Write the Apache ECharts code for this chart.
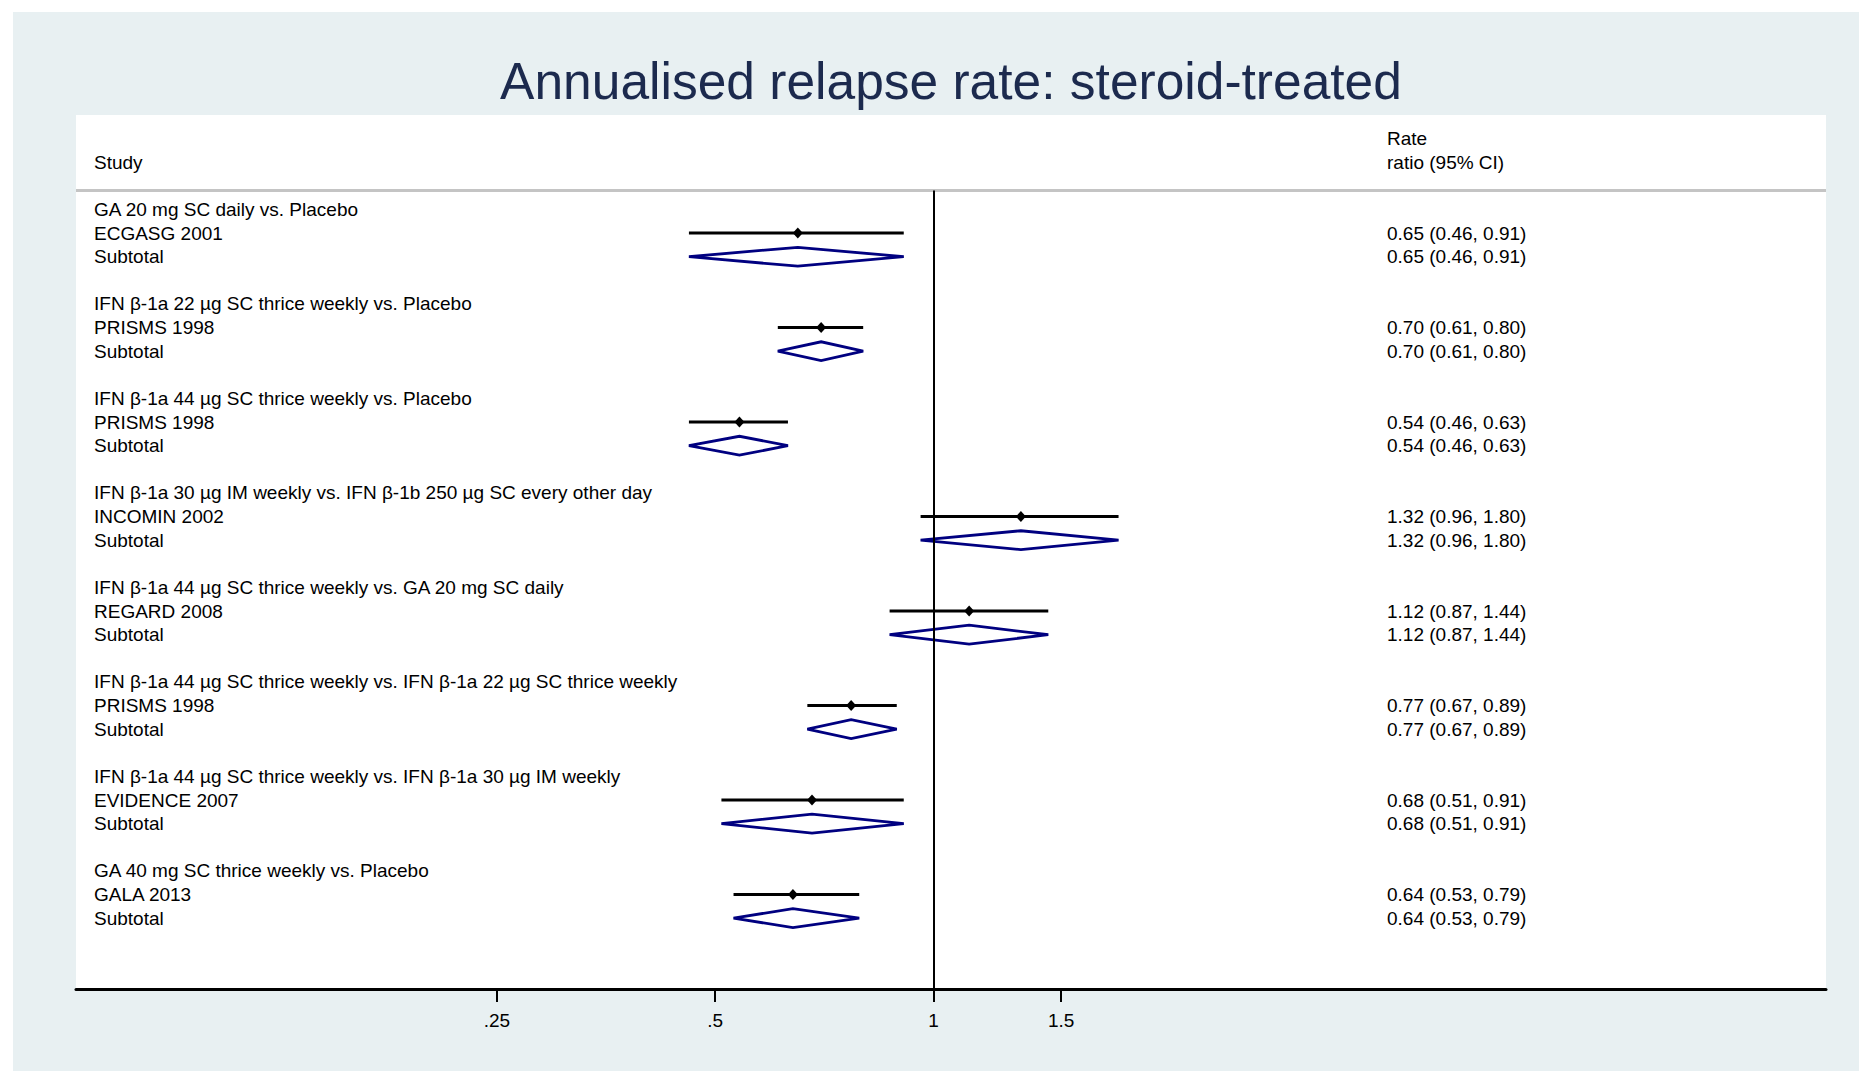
<!DOCTYPE html>
<html><head><meta charset="utf-8">
<script src="https://cdn.jsdelivr.net/npm/echarts@6/dist/echarts.min.js"></script>
<style>html,body{margin:0;padding:0;background:#fff}#c{width:1859px;height:1071px}</style>
</head><body><div id="c"></div>
<script>
const chartTitle = 'Annualised relapse rate: steroid-treated';
const comparisons = [
  'GA 20 mg SC daily vs. Placebo',
  'IFN β-1a 22 µg SC thrice weekly vs. Placebo',
  'IFN β-1a 44 µg SC thrice weekly vs. Placebo',
  'IFN β-1a 30 µg IM weekly vs. IFN β-1b 250 µg SC every other day',
  'IFN β-1a 44 µg SC thrice weekly vs. GA 20 mg SC daily',
  'IFN β-1a 44 µg SC thrice weekly vs. IFN β-1a 22 µg SC thrice weekly',
  'IFN β-1a 44 µg SC thrice weekly vs. IFN β-1a 30 µg IM weekly',
  'GA 40 mg SC thrice weekly vs. Placebo'
];
const studies = ['ECGASG 2001','PRISMS 1998','PRISMS 1998','INCOMIN 2002','REGARD 2008','PRISMS 1998','EVIDENCE 2007','GALA 2013'];
const estimates = [0.65, 0.70, 0.54, 1.32, 1.12, 0.77, 0.68, 0.64];
const lowerCI   = [0.46, 0.61, 0.46, 0.96, 0.87, 0.67, 0.51, 0.53];
const upperCI   = [0.91, 0.80, 0.63, 1.80, 1.44, 0.89, 0.91, 0.79];
const tickValues = [0.25, 0.5, 1, 1.5];
const tickLabels = ['.25', '.5', '1', '1.5'];
const headerLeft = 'Study';
const headerRight = ['Rate', 'ratio (95% CI)'];
const subtotalLabel = 'Subtotal';

const FONT = '"Liberation Sans", Arial, sans-serif';
const X_MIN = 0.06568, X_MAX = 17.02;

const leftRows = [[-2, headerLeft]];
const rightRows = [[-3, headerRight[0]], [-2, headerRight[1]]];
const ciRows = [];
const diamondRows = [];
comparisons.forEach((c, i) => {
  const r = 4 * i;
  leftRows.push([r, c], [r + 1, studies[i]], [r + 2, subtotalLabel]);
  const txt = estimates[i].toFixed(2) + ' (' + lowerCI[i].toFixed(2) + ', ' + upperCI[i].toFixed(2) + ')';
  rightRows.push([r + 1, txt], [r + 2, txt]);
  ciRows.push([lowerCI[i], estimates[i], upperCI[i], r + 1]);
  diamondRows.push([lowerCI[i], estimates[i], upperCI[i], r + 2]);
});

const TITLE_SIZE = 51.5;
const ctx = document.createElement('canvas').getContext('2d');
ctx.font = TITLE_SIZE + 'px ' + FONT;
const titleW = ctx.measureText(chartTitle).width;

function textSeries(rows, xOffset) {
  return {
    type: 'custom', clip: false, silent: true,
    data: rows.map(r => [1, r[0]]),
    renderItem(params, api) {
      const p = api.coord([1, api.value(1)]);
      return { type: 'text', x: params.coordSys.x + xOffset, y: p[1],
        style: { text: rows[params.dataIndex][1], fill: '#000', fontSize: 19, fontFamily: FONT,
                 align: 'left', verticalAlign: 'middle' } };
    }
  };
}

const chart = echarts.init(document.getElementById('c'), null, { renderer: 'svg' });
chart.setOption({
  animation: false,
  backgroundColor: '#ffffff',
  title: { text: chartTitle, left: 951 - titleW / 2, top: 55, padding: 0,
    textStyle: { fontSize: TITLE_SIZE, fontWeight: 'normal', color: '#1c2a4e', fontFamily: FONT } },
  graphic: [{ type: 'rect', z: -100, shape: { x: 13, y: 12, width: 1846, height: 1059 }, style: { fill: '#e8f0f2' } }],
  grid: { left: 76, right: 33, top: 115, bottom: 82, show: true, backgroundColor: '#ffffff', borderWidth: 0 },
  xAxis: {
    type: 'log', logBase: 10, min: X_MIN, max: X_MAX,
    axisLine: { show: true, onZero: false, lineStyle: { color: '#000', width: 3 } },
    axisTick: { show: true, customValues: tickValues, length: 13, lineStyle: { color: '#000', width: 2 } },
    axisLabel: { show: true, customValues: tickValues, margin: 22, fontSize: 19, color: '#000', fontFamily: FONT,
      formatter: v => {
        let best = 0;
        tickValues.forEach((t, i) => { if (Math.abs(Math.log(t) - Math.log(v)) < Math.abs(Math.log(tickValues[best]) - Math.log(v))) best = i; });
        return tickLabels[best];
      } },
    splitLine: { show: false }, minorTick: { show: false }
  },
  yAxis: { type: 'value', min: -4, max: 33, inverse: true, show: false },
  series: [
    {
      type: 'custom', name: 'Study estimates', clip: false,
      data: ciRows,
      encode: { x: [0, 1, 2], y: 3 },
      renderItem(params, api) {
        const row = api.value(3);
        const lo = api.coord([api.value(0), row]);
        const es = api.coord([api.value(1), row]);
        const hi = api.coord([api.value(2), row]);
        return { type: 'group', children: [
          { type: 'line', shape: { x1: lo[0], y1: lo[1], x2: hi[0], y2: hi[1] }, style: { stroke: '#000', lineWidth: 3 } },
          { type: 'polygon', shape: { points: [[es[0] - 5, es[1]], [es[0], es[1] - 5.5], [es[0] + 5, es[1]], [es[0], es[1] + 5.5]] }, style: { fill: '#000' } }
        ] };
      },
      markLine: {
        silent: true, symbol: 'none', label: { show: false },
        data: [
          [{ coord: [X_MIN, -0.8], lineStyle: { color: '#c4c4c4', width: 3, type: 'solid' } }, { coord: [X_MAX, -0.8] }],
          [{ coord: [1, -0.8], lineStyle: { color: '#000', width: 2, type: 'solid' } }, { coord: [1, 33] }]
        ]
      }
    },
    {
      type: 'custom', name: 'Subtotals', clip: false,
      data: diamondRows,
      encode: { x: [0, 1, 2], y: 3 },
      renderItem(params, api) {
        const row = api.value(3);
        const lo = api.coord([api.value(0), row]);
        const top = api.coord([api.value(1), row - 0.4]);
        const hi = api.coord([api.value(2), row]);
        const bot = api.coord([api.value(1), row + 0.4]);
        return { type: 'polygon', shape: { points: [lo, top, hi, bot] },
          style: { fill: 'none', stroke: '#000080', lineWidth: 2.8, lineJoin: 'miter' } };
      }
    },
    textSeries(leftRows, 18),
    textSeries(rightRows, 1311)
  ]
});
</script></body></html>
